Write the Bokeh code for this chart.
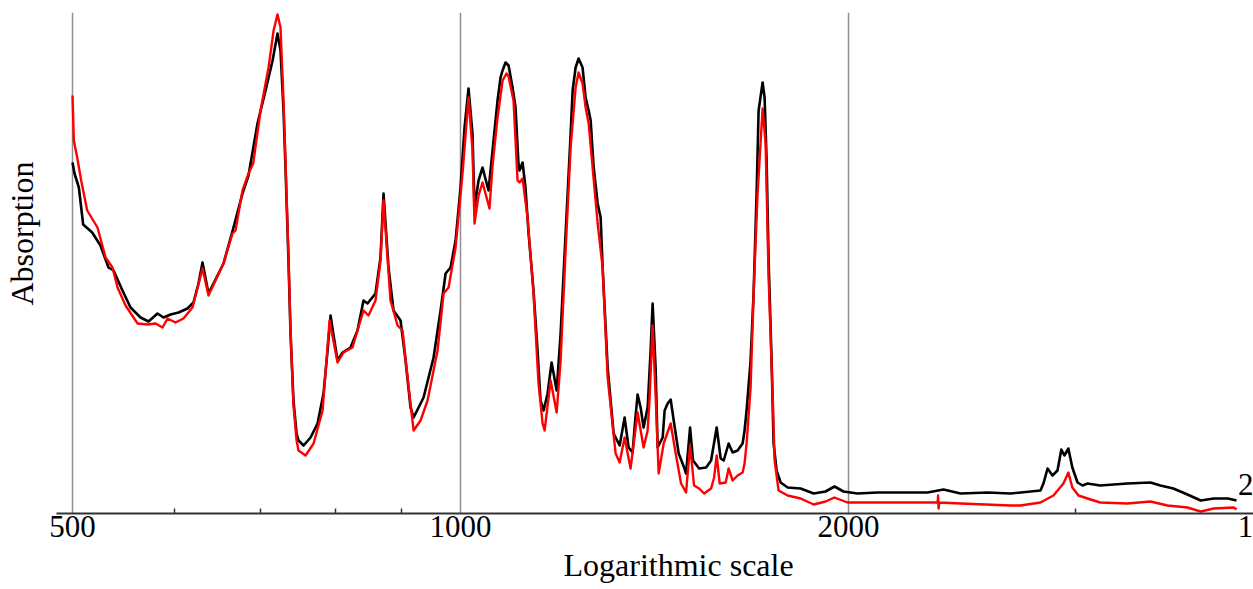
from bokeh.plotting import figure
from bokeh.models import Range1d, FixedTicker, Label, Title
from bokeh.embed import file_html
from bokeh.resources import INLINE

# ---------------- data (wavenumber, absorption in arbitrary units) ----------------
black_wn = [500, 501.8, 505.7, 509.6, 517.9, 525.6, 533.2, 538.0, 546.7, 554.6, 564.6, 572.7,
            582.0, 588.3, 595.7, 604.3, 614.0, 620.6, 626.2, 630.7, 637.5, 643.2, 654.8, 666.6,
            677.4, 684.7, 695.8, 705.9, 714.8, 721.1, 725.0, 728.9, 731.5, 735.4, 738.1, 742.0,
            746.1, 748.7, 755.5, 765.0, 774.6, 782.9, 788.6, 792.8, 797.1, 802.8, 810.0, 821.6,
            831.9, 840.9, 846.9, 859.1, 866.8, 871.5, 879.3, 887.2, 898.4, 906.5, 914.6, 919.6,
            936.1, 953.0, 965.0, 973.7, 982.4, 991.2, 1000.0, 1007.2, 1014.4, 1021.6, 1025.3,
            1032.7, 1040.1, 1051.3, 1058.9, 1068.4, 1074.1, 1078.0, 1083.8, 1089.6, 1097.4, 1103.3,
            1109.0, 1111.2, 1117.2, 1123.0, 1129.3, 1139.3, 1147.5, 1153.6, 1160.0, 1168.3, 1176.7,
            1187.4, 1195.8, 1206.5, 1217.4, 1221.7, 1228.3, 1234.8, 1243.6, 1250.4, 1257.2, 1261.7,
            1268.5, 1277.6, 1284.4, 1289.0, 1300.6, 1314.6, 1328.8, 1340.6, 1350.2, 1359.8, 1366.2,
            1372.1, 1379.5, 1386.9, 1396.9, 1404.4, 1409.4, 1417.0, 1422.1, 1434.9, 1440.0, 1447.8,
            1455.6, 1463.5, 1476.6, 1491.0, 1496.2, 1506.9, 1515.0, 1531.4, 1550.7, 1564.6, 1580.3,
            1591.6, 1600.2, 1614.4, 1626.0, 1640.5, 1655.2, 1661.0, 1667.0, 1679.0, 1688.0,
            1697.1, 1703.2, 1715.4, 1721.5,
            1727.7, 1733.9, 1743.2, 1749.4, 1758.8, 1771.5, 1793.8, 1835.9, 1879.0, 1919.6,
            1950.4, 1982.1, 2032.5, 2106.4, 2194.7, 2303.0, 2369.7, 2443.0, 2564.0, 2671.0,
            2818.0, 2833.0, 2854.0, 2879.0, 2905.0, 2925.0, 2941.0, 2962.0, 2983.0, 3011.0,
            3038.0, 3065.0, 3135.0, 3291.0, 3430.0, 3491.0, 3573.0, 3664.0, 3752.0, 3841.0,
            3939.0, 4000.0]
black_abs = [0.702, 0.680, 0.652, 0.578, 0.562, 0.536, 0.492, 0.486, 0.446, 0.412, 0.392, 0.384,
             0.400, 0.392, 0.398, 0.402, 0.410, 0.422, 0.460, 0.502, 0.440, 0.460, 0.500, 0.572,
             0.640, 0.676, 0.780, 0.846, 0.906, 0.960, 0.926, 0.806, 0.692, 0.506, 0.360, 0.226,
             0.160, 0.146, 0.136, 0.152, 0.180, 0.240, 0.326, 0.396, 0.356, 0.306, 0.322, 0.332,
             0.366, 0.426, 0.420, 0.440, 0.512, 0.640, 0.492, 0.406, 0.386, 0.306, 0.212, 0.192,
             0.232, 0.312, 0.406, 0.480, 0.492, 0.546, 0.652, 0.772, 0.850, 0.760, 0.612,
             0.666, 0.692, 0.646, 0.726, 0.826, 0.872, 0.886, 0.902, 0.896, 0.852, 0.812,
             0.700, 0.686, 0.702, 0.652, 0.560, 0.446, 0.326, 0.226, 0.206, 0.240, 0.302,
             0.246, 0.360, 0.560, 0.760, 0.846, 0.892, 0.910, 0.892, 0.832, 0.806, 0.786,
             0.692, 0.620, 0.592, 0.492, 0.292, 0.160, 0.136, 0.192, 0.132, 0.122, 0.186,
             0.238, 0.212, 0.172, 0.212, 0.326, 0.420, 0.290, 0.132, 0.152, 0.206, 0.220,
             0.228, 0.186, 0.120, 0.092, 0.080, 0.172, 0.106, 0.090, 0.092, 0.106, 0.172,
             0.110, 0.106, 0.140, 0.122, 0.126, 0.140, 0.166, 0.206, 0.306, 0.440,
             0.640, 0.806, 0.862, 0.832,
             0.706, 0.506, 0.306, 0.140, 0.086, 0.062, 0.052, 0.050, 0.040, 0.044,
             0.054, 0.044, 0.040, 0.042, 0.042, 0.042, 0.048, 0.040, 0.042, 0.040,
             0.046, 0.060, 0.090, 0.076, 0.086, 0.128, 0.116, 0.130, 0.092, 0.062,
             0.056, 0.060, 0.056, 0.060, 0.062, 0.056, 0.050, 0.038, 0.026, 0.030,
             0.030, 0.026]

red_wn = [500, 501.2, 504.2, 507.8, 513.3, 522.8, 530.4, 537.0, 541.9, 549.7, 561.6, 571.7,
          580.0, 587.2, 592.5, 601.0, 609.6, 619.5, 630.7, 637.5, 654.8, 665.4, 669.0, 677.4,
          684.7, 690.5, 699.6, 705.9, 709.7, 716.1, 721.1, 725.0, 728.9, 731.5, 735.4, 738.1,
          742.0, 746.1, 748.7,
          758.2, 769.1, 781.6, 791.4, 802.8, 811.4, 824.5, 831.9, 840.9, 848.4, 859.1, 866.8,
          871.5, 882.4, 893.6, 901.6, 909.7, 919.6, 931.1, 942.8, 959.8, 970.2, 978.9, 991.2,
          1003.6, 1014.4, 1021.6, 1025.3, 1032.7, 1040.1, 1053.1, 1058.9, 1068.4, 1078.0,
          1085.6, 1089.6, 1099.3, 1107.3, 1111.2, 1117.2, 1127.2, 1139.3, 1149.5, 1157.9,
          1162.1, 1174.6, 1187.4, 1195.8, 1206.5, 1217.4, 1228.3, 1234.8, 1243.6, 1250.4, 1257.2,
          1277.6, 1289.0, 1300.6, 1319.3, 1328.8, 1340.6, 1355.0, 1372.1, 1386.9, 1396.9, 1401.9,
          1409.4, 1417.0, 1424.7, 1437.5, 1455.6, 1468.7, 1482.9, 1496.2, 1506.9, 1517.7, 1531.4,
          1545.2, 1564.6, 1573.0, 1580.3, 1588.8, 1605.9, 1614.4, 1626.0, 1640.5, 1655.2, 1661.0,
          1667.0, 1679.0,
          1688.0, 1700.1, 1715.4, 1724.6, 1733.9, 1746.3, 1752.6, 1765.1, 1793.8, 1835.9,
          1879.0, 1919.6, 1950.4, 1996.3, 2043.0, 2167.1, 2303.0, 2345.0, 2347.0, 2349.0,
          2352.0, 2443.0, 2671.0, 2719.0, 2818.0, 2884.0, 2936.0, 2962.0, 2983.0, 3016.0,
          3065.0, 3135.0, 3291.0, 3430.0, 3535.0, 3664.0, 3752.0, 3841.0, 3981.0, 4000.0]
red_abs = [0.836, 0.746, 0.712, 0.666, 0.606, 0.572, 0.512, 0.492, 0.452, 0.416, 0.380, 0.378,
           0.380, 0.372, 0.390, 0.382, 0.390, 0.412, 0.490, 0.436, 0.500, 0.560, 0.566, 0.646,
           0.680, 0.700, 0.806, 0.860, 0.892, 0.966, 0.998, 0.972, 0.826, 0.706, 0.516, 0.366,
           0.216, 0.146, 0.126,
           0.116, 0.140, 0.206, 0.386, 0.302, 0.322, 0.332, 0.366, 0.406, 0.396, 0.426, 0.506,
           0.626, 0.426, 0.376, 0.366, 0.272, 0.166, 0.186, 0.226, 0.326, 0.440, 0.452, 0.532,
           0.680, 0.832, 0.726, 0.580, 0.636, 0.662, 0.610, 0.696, 0.792, 0.866,
           0.880, 0.874, 0.826, 0.666, 0.662, 0.670, 0.592, 0.440, 0.260, 0.180,
           0.166, 0.266, 0.202, 0.306, 0.526, 0.732, 0.852, 0.882, 0.860, 0.812, 0.780,
           0.580, 0.492, 0.272, 0.120, 0.102, 0.152, 0.090, 0.202, 0.132, 0.166, 0.232,
           0.376, 0.236, 0.080, 0.140, 0.180, 0.120, 0.060, 0.042, 0.136, 0.056, 0.050,
           0.040, 0.050, 0.072, 0.116, 0.060, 0.062, 0.090, 0.066, 0.076, 0.082, 0.100,
           0.140, 0.252,
           0.440, 0.640, 0.810, 0.740, 0.472, 0.240, 0.106, 0.046, 0.036, 0.030,
           0.018, 0.024, 0.032, 0.022, 0.022, 0.022, 0.022, 0.022, 0.036, 0.010,
           0.022, 0.020, 0.016, 0.016, 0.022, 0.036, 0.060, 0.082, 0.052, 0.036,
           0.030, 0.022, 0.020, 0.024, 0.016, 0.012, 0.004, 0.010, 0.012, 0.008]

tick_values = [500, 1000, 2000]
tick_labels = ["500", "1000", "2000"]
minor_tick_values = [600, 700, 800, 900, 3000]
curve_labels = ["2", "1"]
curve_label_x = 4065
curve_label_y = [0.058]

SERIF = "Liberation Serif"

p = figure(width=1253, height=589, x_axis_type="log",
           x_range=Range1d(485.9, 4123), y_range=Range1d(0, 1.002),
           output_backend="svg", toolbar_location=None,
           min_border_left=56, min_border_right=0, min_border_top=12, min_border_bottom=76)
p.outline_line_color = None
p.background_fill_color = "white"
p.border_fill_color = "white"

# x axis (curve label "1" sits on the tick-label row at the right end)
p.xaxis.ticker = FixedTicker(ticks=tick_values + [curve_label_x], minor_ticks=minor_tick_values)
overrides = {v: s for v, s in zip(tick_values, tick_labels)}
overrides[curve_label_x] = curve_labels[1]
p.xaxis.major_label_overrides = overrides
p.xaxis.major_label_text_font = SERIF
p.xaxis.major_label_text_font_size = "31px"
p.xaxis.major_label_text_color = "black"
p.xaxis.major_label_standoff = 2
p.xaxis.major_tick_in = 0
p.xaxis.major_tick_out = 0
p.xaxis.minor_tick_in = 5
p.xaxis.minor_tick_out = 0
p.xaxis.minor_tick_line_color = "#333333"
p.xaxis.minor_tick_line_width = 1.5
p.xaxis.axis_line_color = "#333333"
p.xaxis.axis_line_width = 2

p.xgrid.ticker = FixedTicker(ticks=tick_values)
p.xgrid.grid_line_color = "#8f8f8f"
p.xgrid.grid_line_width = 1.5
p.ygrid.grid_line_color = None

# y axis: no visible ticks, labels or line; it only keeps the title away from the frame
p.yaxis.ticker = FixedTicker(ticks=[0.5])
p.yaxis.major_label_overrides = {0.5: ""}
p.yaxis.axis_line_color = None
p.yaxis.major_tick_line_color = None
p.yaxis.minor_tick_line_color = None
p.yaxis.major_tick_out = 17
p.yaxis.major_tick_in = 0
p.yaxis.minor_tick_out = 0
p.yaxis.minor_tick_in = 0
p.yaxis.major_label_standoff = 0

p.line(black_wn, black_abs, line_color="black", line_width=2.6, line_join="round")
p.line(red_wn, red_abs, line_color="#ff0000", line_width=2.4, line_join="round")

# axis titles
p.add_layout(Title(text="Logarithmic scale", align="left", offset=507, standoff=10,
                   text_font=SERIF, text_font_size="32px", text_font_style="normal",
                   text_color="black"), "below")
p.add_layout(Title(text="Absorption", align="left", offset=208, standoff=0,
                   text_font=SERIF, text_font_size="32px", text_font_style="normal",
                   text_color="black"), "left")
# curve label "2"
p.add_layout(Label(x=4123, y=curve_label_y[0], text=curve_labels[0], text_font=SERIF,
                   text_font_size="31px", text_align="right", text_baseline="middle",
                   text_color="black"))

open("out.html", "w").write(file_html(p, INLINE))
